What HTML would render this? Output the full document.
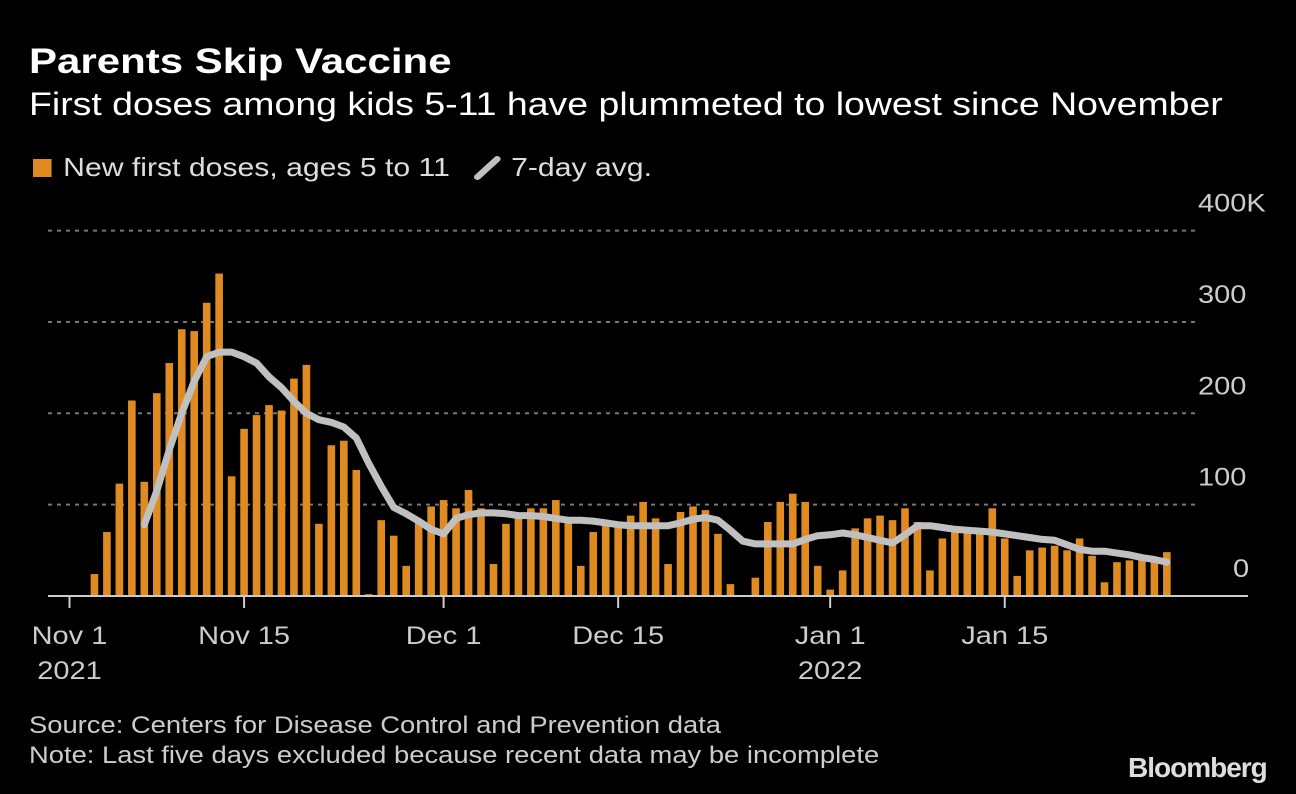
<!DOCTYPE html>
<html><head><meta charset="utf-8"><style>
html,body{margin:0;padding:0;background:#000;}
body{width:1296px;height:794px;overflow:hidden;position:relative;font-family:"Liberation Sans",sans-serif;color:#fff;}
.t{position:absolute;white-space:nowrap;transform-origin:0 0;}
</style></head><body>
<div class="t" style="left:29px;top:42px;font-size:35px;font-weight:bold;transform:scaleX(1.2);">Parents Skip Vaccine</div>
<div class="t" style="left:29px;top:86px;font-size:32px;transform:scaleX(1.17);">First doses among kids 5-11 have plummeted to lowest since November</div>
<div class="t" style="left:33px;top:152px;font-size:26px;color:#ddd;transform:scaleX(1.16);"><span style="display:inline-block;width:16px;height:18px;background:#e08b22;margin-right:10px;vertical-align:-1px;"></span>New first doses, ages 5 to 11</div>
<div class="t" style="left:474px;top:152px;font-size:26px;color:#ddd;transform:scaleX(1.16);"><svg width="24" height="26" style="vertical-align:-4px;margin-right:8px;"><line x1="3" y1="23" x2="20" y2="5" stroke="#c0c0c0" stroke-width="6" stroke-linecap="round"/></svg>7-day avg.</div>
<svg id="chart" width="1296" height="794" style="position:absolute;left:0;top:0;"></svg>
<div class="t" style="left:29px;top:712px;font-size:24px;color:#ccc;transform:scaleX(1.14);">Source: Centers for Disease Control and Prevention data</div>
<div class="t" style="left:29px;top:742px;font-size:24px;color:#ccc;transform:scaleX(1.14);">Note: Last five days excluded because recent data may be incomplete</div>
<div class="t" style="left:1128px;top:752px;font-size:28px;font-weight:bold;color:#ddd;letter-spacing:-1px;">Bloomberg</div>
<script>
const doses=[-1,-1,24,70,123,214,125,222,255,292,290,321,353,131,183,198,209,203,238,253,79,165,170,138,2,83,66,33,81,98,105,96,116,96,35,79,86,96,96,105,83,33,70,78,81,88,103,85,35,92,98,94,68,13,-1,20,81,103,112,103,33,7,28,74,85,88,83,96,81,28,63,70,70,70,96,63,22,50,53,55,50,63,44,15,37,39,39,39,48];
const avgStart=6;
const avg7=[78,115,160,200,235,262,267,267,262,255,240,228,213,200,193,190,185,173,145,120,97,90,82,73,68,85,89,91,91,90,88,88,87,85,83,83,82,80,78,77,77,77,77,80,84,86,83,72,60,57,57,57,57,62,66,67,69,67,64,61,58,67,77,77,75,73,72,71,70,68,66,64,62,61,56,51,49,49,47,45,42,40,37];
const yTicks=[0,100,200,300,400];
const yTickLabels=["0","100","200","300","400K"];
const xTickDays=[0,14,30,44,61,75];
const xTickLabels=["Nov 1","Nov 15","Dec 1","Dec 15","Jan 1","Jan 15"];
const xTickYears=["2021","","","","2022",""];
const NS="http://www.w3.org/2000/svg";
const svg=document.getElementById('chart');
const y=v=>596-v*0.9135;
const x=d=>69.5+d*12.47;
function mk(t,a){const e=document.createElementNS(NS,t);for(const k in a)e.setAttribute(k,a[k]);svg.appendChild(e);return e;}
const sx=(px)=>`translate(${px},0) scale(1.16,1) translate(${-px},0)`;
yTicks.forEach((v,i)=>{
  if(v>0){const g=mk('line',{x1:48,x2:1195,y1:y(v),y2:y(v),stroke:'#777','stroke-width':2,'stroke-dasharray':'4,5'});
  
  }
  const lx=v===0?1233:1198;
  const t=mk('text',{x:lx,y:y(v)-19,'text-anchor':'start','font-size':25,fill:'#ccc','font-family':'Liberation Sans, sans-serif',transform:sx(lx)});
  t.textContent=yTickLabels[i];
  
  
});
doses.forEach((v,i)=>{
  const top=Math.min(y(v),y(0)),h=Math.max(Math.abs(y(v)-y(0)),0.5);
  const b=mk('rect',{x:x(i)-3.8,y:top,width:7.6,height:h,fill:'#e08b22'});
  
  
});
const base=mk('line',{x1:48,x2:1248,y1:596,y2:596,stroke:'#ccc','stroke-width':2});


xTickDays.forEach((d,i)=>{
  const tk=mk('line',{x1:x(d),x2:x(d),y1:596,y2:608,stroke:'#ccc','stroke-width':2});
  
  
  const t=mk('text',{x:x(d),y:644,'text-anchor':'middle','font-size':25,fill:'#ccc','font-family':'Liberation Sans, sans-serif',transform:sx(x(d))});
  t.textContent=xTickLabels[i];
  
  
  if(xTickYears[i]){const t2=mk('text',{x:x(d),y:679,'text-anchor':'middle','font-size':25,fill:'#ccc','font-family':'Liberation Sans, sans-serif',transform:sx(x(d))});
  t2.textContent=xTickYears[i];
  
  }
});
const pts=avg7.map((v,i)=>x(i+avgStart).toFixed(1)+','+y(v).toFixed(1)).join(' ');
const pl=mk('polyline',{points:pts,fill:'none',stroke:'#c0c0c0','stroke-width':7,'stroke-linejoin':'round','stroke-linecap':'round'});


</script>
</body></html>
